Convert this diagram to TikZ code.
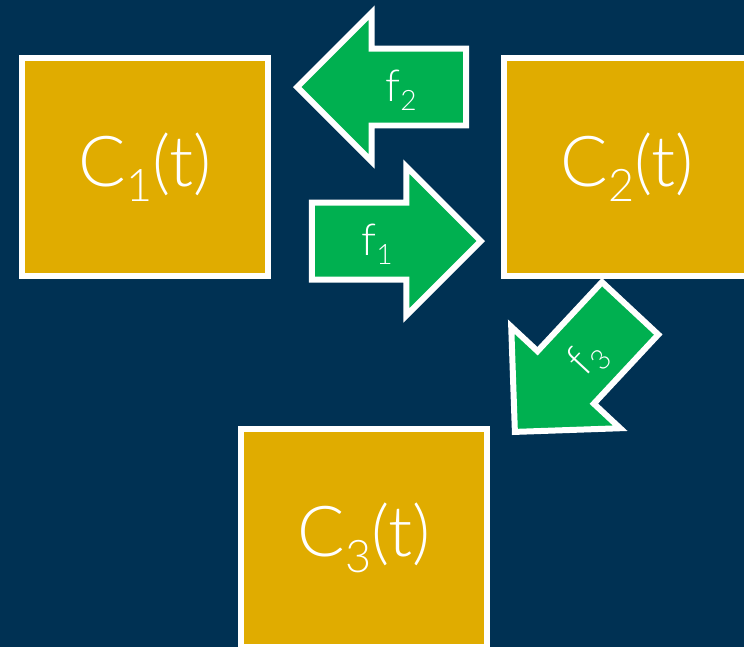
\documentclass[tikz,border=0pt]{standalone}
\usepackage{fontspec}
\setmainfont{Lato}[UprightFont=* Light]
\usepackage{tikz}
\usetikzlibrary{shapes.arrows}

\definecolor{navy}{HTML}{003153}
\definecolor{gold}{HTML}{E0AC00}
\definecolor{flowgreen}{HTML}{00B050}

\newcommand{\lowsub}[1]{\raisebox{-0.22em}{\scalebox{0.64}{#1}}}

\tikzset{
  compart/.style={draw=white, line width=0.12cm, fill=gold, text=white,
    minimum width=4.92cm, minimum height=4.36cm, font=\fontsize{40}{46}\selectfont},
  flow/.style={single arrow, draw=white, line width=0.12cm, fill=flowgreen, text=white,
    single arrow head extend=0.72cm, minimum height=3.38cm, inner ysep=0pt,
    text height=0.99cm, text depth=0.43cm, font=\fontsize{25}{30}\selectfont}
}

\begin{document}
\begin{tikzpicture}[x=0.02cm, y=-0.02cm]
        \fill[navy] (0,0) rectangle (744,647);
        \useasboundingbox (0,0) rectangle (744,647);

        \node[compart] (c1) at (145,167) {C\lowsub{1}(t)};
        \node[compart] (c2) at (627,167) {C\lowsub{2}(t)};
        \node[compart] (c3) at (364,538) {C\lowsub{3}(t)};

        \node[flow, anchor=tip] (f1) at (485,241) {f\lowsub{1}};
        \node[flow, shape border rotate=180, anchor=tip] (f2) at (293,87) {f\lowsub{2}};
        \node[flow, shape border rotate=180, rotate=47, anchor=tip] (f3) at (512,435) {f\lowsub{3}};
    \end{tikzpicture}
\end{document}
